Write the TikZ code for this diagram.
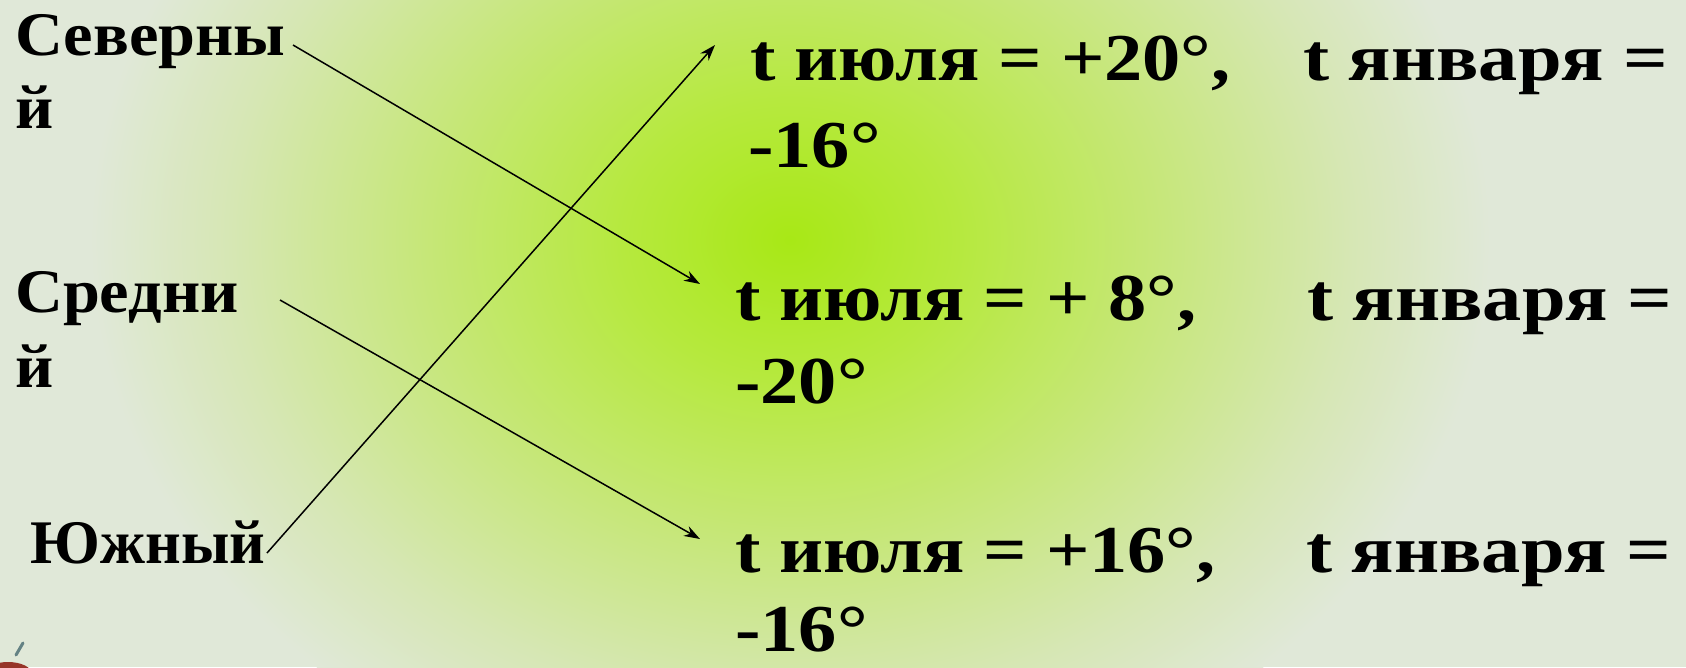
\documentclass[tikz,border=0pt]{standalone}
\usepackage{fontspec}
\setmainfont{Liberation Serif}
\usetikzlibrary{arrows.meta}
\definecolor{cA}{RGB}{168,232,22}
\definecolor{cB}{RGB}{182,233,62}
\definecolor{cC}{RGB}{198,231,120}
\definecolor{cD}{RGB}{214,231,180}
\definecolor{cE}{RGB}{224,232,216}
\definecolor{blobc}{RGB}{150,52,40}
\definecolor{pencilc}{RGB}{100,130,132}
\pgfdeclareradialshading{bgshade}{\pgfpoint{0bp}{0bp}}{color(0bp)=(cA); color(6bp)=(cB); color(13bp)=(cC); color(20bp)=(cD); color(25bp)=(cE); color(50bp)=(cE)}
\newcommand{\hs}[2]{\scalebox{#1}[1]{#2}}
\tikzset{
  lbl/.style={anchor=base west, inner sep=0pt, font=\fontsize{62}{70}\selectfont\bfseries},
  val/.style={anchor=base west, inner sep=0pt, font=\fontsize{67}{74}\selectfont\bfseries},
  conn/.style={-{Stealth[length=16pt,width=11pt]}, line width=1.5pt, black}
}
\begin{document}
\begin{tikzpicture}[x=1pt,y=-1pt]
\useasboundingbox (0,0) rectangle (1686,667);
\begin{scope}
\clip (0,0) rectangle (1686,667);
\fill[cE] (0,0) rectangle (1686,667);
\shade[shading=bgshade] (790,240) ellipse [x radius=700, y radius=580];
\fill[blobc] (8,674) ellipse [x radius=24, y radius=12];
\draw[pencilc, line width=3pt, line cap=round] (16,655) -- (23,643);
\end{scope}
% left labels
\node[lbl] (sevA) at (15,55) {\hs{1.07}{Северны}};
\node[lbl] (sevB) at (15,128) {\hs{1.07}{й}};
\node[lbl] (srA) at (15,312) {\hs{1.07}{Средни}};
\node[lbl] (srB) at (15,387) {\hs{1.07}{й}};
\node[lbl] (yu) at (30,563) {Южный};
% right values
\node[val] (r1a) at (750,80) {\hs{1.14}{t июля = +20°,}};
\node[val] (r1b) at (1303,80) {\hs{1.17}{t января =}};
\node[val] (r1c) at (748,167) {\hs{1.14}{-16°}};
\node[val] (r2a) at (735,320) {\hs{1.14}{t июля = + 8°,}};
\node[val] (r2b) at (1307,320) {\hs{1.17}{t января =}};
\node[val] (r2c) at (735,403) {\hs{1.14}{-20°}};
\node[val] (r3a) at (735,572) {\hs{1.14}{t июля = +16°,}};
\node[val] (r3b) at (1306,572) {\hs{1.17}{t января =}};
\node[val] (r3c) at (735,651) {\hs{1.14}{-16°}};
% connector ends
\coordinate (s1) at (293,45);
\coordinate (e1) at (700,284);
\coordinate (s2) at (280,300);
\coordinate (e2) at (700,539);
\coordinate (s3) at (267,553);
\coordinate (e3) at (715,45);
\draw[conn] (s1) -- (e1);
\draw[conn] (s2) -- (e2);
\draw[conn] (s3) -- (e3);
\end{tikzpicture}
\end{document}
